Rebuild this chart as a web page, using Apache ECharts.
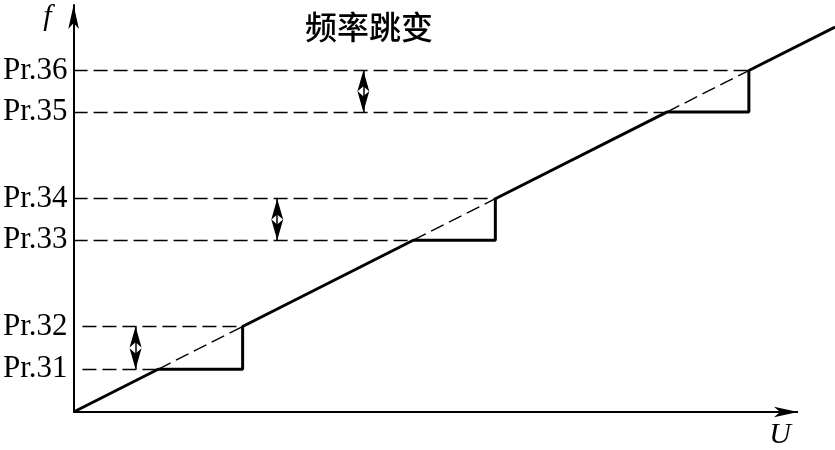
<!DOCTYPE html>
<html>
<head>
<meta charset="utf-8">
<script src="https://cdn.jsdelivr.net/npm/echarts@6/dist/echarts.min.js"></script>
<style>
  html, body { margin: 0; padding: 0; background: #fff; }
  #chart { width: 835px; height: 450px; }
</style>
</head>
<body>
<div id="chart"></div>
<script>
// frequency levels (f = U along the diagonal)
var levelNames = ['Pr.31', 'Pr.32', 'Pr.33', 'Pr.34', 'Pr.35', 'Pr.36'];
var levels = [10.5, 21, 42.2, 52.4, 73.7, 83.9];
// where the dashed guide lines start on U
var dashStart = [1.1, 1.1, 0, 0, 0, 0];
// U position of the double arrows, one per jump
var arrowU = [7.7, 25.3, 36.0];
var axisEndU = 90;
var lineEnd = 94.6;

var chart = echarts.init(document.getElementById('chart'));

// solid characteristic: rises, holds flat, jumps up
var solid = [[0, 0]];
for (var i = 0; i < levels.length; i += 2) {
  var lo = levels[i], hi = levels[i + 1];
  solid.push([lo, lo], [hi, lo], [hi, hi]);
}
solid.push([lineEnd, lineEnd]);

var dashed = [];
for (var i = 0; i < levels.length; i++) {
  dashed.push([{ coord: [dashStart[i], levels[i]] }, { coord: [levels[i], levels[i]] }]);
}
for (var i = 0; i < levels.length; i += 2) {
  dashed.push([{ coord: [levels[i], levels[i]] }, { coord: [levels[i + 1], levels[i + 1]] }]);
}

var arrows = [];
for (var k = 0; k < arrowU.length; k++) {
  arrows.push([{ coord: [arrowU[k], levels[k * 2]] }, { coord: [arrowU[k], levels[k * 2 + 1]] }]);
}

chart.setOption({
  animation: false,
  title: {
    text: '频率跳变',
    left: 364,
    top: 6,
    textAlign: 'center',
    textStyle: {
      fontFamily: 'Noto Sans CJK SC',
      fontSize: 32,
      fontWeight: 500,
      color: '#000'
    }
  },
  grid: { left: 73, right: 0, top: 5, bottom: 35 },
  xAxis: {
    type: 'value',
    min: 0,
    max: lineEnd,
    name: 'U',
    nameLocation: 'end',
    nameGap: -55,
    nameTextStyle: {
      fontFamily: 'Liberation Serif',
      fontStyle: 'italic',
      fontSize: 30,
      color: '#000',
      align: 'center',
      verticalAlign: 'top',
      padding: [8, 0, 0, 0]
    },
    axisLine: { show: false },
    axisTick: { show: false },
    axisLabel: { show: false },
    splitLine: { show: false }
  },
  yAxis: {
    type: 'value',
    min: 0,
    max: 100,
    name: 'f',
    nameLocation: 'end',
    nameGap: -12,
    nameTextStyle: {
      fontFamily: 'Liberation Serif',
      fontStyle: 'italic',
      fontSize: 30,
      color: '#000',
      align: 'right',
      verticalAlign: 'middle',
      padding: [0, 22, 0, 0]
    },
    axisLine: {
      lineStyle: { color: '#000', width: 2 },
      symbol: ['none', 'arrow'],
      symbolSize: [8, 24]
    },
    axisTick: { show: false },
    splitLine: { show: false },
    axisLabel: {
      customValues: levels,
      margin: 6,
      fontFamily: 'Liberation Serif',
      fontSize: 31,
      color: '#000',
      formatter: function (v) {
        var idx = levels.indexOf(v);
        return idx >= 0 ? levelNames[idx] : '';
      }
    }
  },
  series: [
    {
      type: 'line',
      data: solid,
      symbol: 'none',
      lineStyle: { color: '#000', width: 3 },
      markLine: {
        silent: true,
        symbol: ['none', 'none'],
        label: { show: false },
        lineStyle: { color: '#000', width: 1.4, type: [14, 6] },
        data: dashed
      }
    },
    {
      type: 'line',
      data: [],
      markLine: {
        silent: true,
        symbol: ['arrow', 'arrow'],
        symbolSize: [9, 21],
        label: { show: false },
        lineStyle: { color: '#000', width: 1.5, type: 'solid' },
        data: arrows
      }
    },
    {
      // U axis, shorter than the plot so the line can run past it
      type: 'line',
      data: [],
      markLine: {
        silent: true,
        symbol: ['none', 'arrow'],
        symbolSize: [8, 24],
        label: { show: false },
        lineStyle: { color: '#000', width: 2, type: 'solid' },
        data: [[{ coord: [0, 0] }, { coord: [axisEndU, 0] }]]
      }
    }
  ]
});
</script>
</body>
</html>
